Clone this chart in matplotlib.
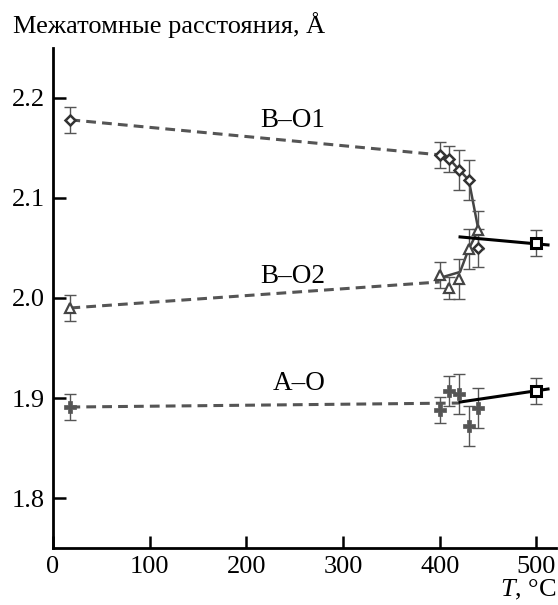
import matplotlib
matplotlib.use("Agg")
import matplotlib.pyplot as plt

plt.rcParams["font.family"] = ["Liberation Serif", "DejaVu Serif"]
plt.rcParams["mathtext.fontset"] = "custom"
plt.rcParams["mathtext.it"] = "Liberation Serif:italic"
plt.rcParams["mathtext.rm"] = "Liberation Serif"

GRAY = "#555555"

# data
t_room = 18
t_high = [400, 410, 420, 430, 440]

bo1_room, bo1_room_err = 2.178, 0.013
bo1 = [2.143, 2.139, 2.128, 2.118, 2.050]
bo1_err = [0.013, 0.013, 0.020, 0.020, 0.019]

bo2_room, bo2_room_err = 1.990, 0.013
bo2 = [2.023, 2.010, 2.019, 2.049, 2.068]
bo2_err = [0.013, 0.011, 0.020, 0.020, 0.019]

ao_room, ao_room_err = 1.891, 0.013
ao = [1.888, 1.907, 1.904, 1.872, 1.890]
ao_err = [0.013, 0.015, 0.020, 0.020, 0.020]

t_cubic = 500
bo_cubic, bo_cubic_err = 2.055, 0.013
ao_cubic, ao_cubic_err = 1.907, 0.013

# straight fits in the high temperature phase
fit_t = [421, 512]
bo_fit = [2.061, 2.053]
ao_fit = [1.896, 1.909]

# guide lines near the transition
bo1_guide_t = [400, 410, 420, 430, 440]
bo1_guide = [2.143, 2.139, 2.128, 2.118, 2.068]
bo2_guide_t = [400, 421, 430, 440]
bo2_guide = [2.020, 2.026, 2.049, 2.068]

fig = plt.figure(figsize=(5.58, 6.05), dpi=100)
ax = fig.add_axes([0.095, 0.094, 0.901, 0.827])

eb = dict(fmt="none", ecolor=GRAY, elinewidth=1.0, capsize=4, capthick=1.0, zorder=2)
dash = (0, (3.2, 2.0))

# dashed lines from room temperature
ax.plot([t_room, 400], [bo1_room, bo1[0]], ls=dash, color=GRAY, lw=2.2, zorder=1)
ax.plot([t_room, 400], [bo2_room, 2.016], ls=dash, color=GRAY, lw=2.2, zorder=1)
ax.plot([t_room, 420], [ao_room, 1.895], ls=dash, color=GRAY, lw=2.2, zorder=1)

ax.plot(bo1_guide_t, bo1_guide, color="#444444", lw=1.8, zorder=1)
ax.plot(bo2_guide_t, bo2_guide, color="#444444", lw=1.8, zorder=1)

ax.plot(fit_t, bo_fit, color="black", lw=2.2, zorder=3)
ax.plot(fit_t, ao_fit, color="black", lw=2.2, zorder=3)

# B-O1
ax.errorbar([t_room] + t_high, [bo1_room] + bo1, yerr=[bo1_room_err] + bo1_err, **eb)
ax.plot([t_room] + t_high, [bo1_room] + bo1, ls="none", marker="D", ms=5.5,
        mfc="white", mec="#333333", mew=1.8, zorder=4)

# B-O2
ax.errorbar([t_room] + t_high, [bo2_room] + bo2, yerr=[bo2_room_err] + bo2_err, **eb)
ax.plot([t_room] + t_high, [bo2_room] + bo2, ls="none", marker="^", ms=7.5,
        mfc="white", mec="#444444", mew=1.6, zorder=4)

# A-O
ax.errorbar([t_room] + t_high, [ao_room] + ao, yerr=[ao_room_err] + ao_err, **eb)
ax.plot([t_room] + t_high, [ao_room] + ao, ls="none", marker="P", ms=9,
        mfc=GRAY, mec=GRAY, mew=0.5, zorder=4)

# cubic phase
ax.errorbar([t_cubic, t_cubic], [bo_cubic, ao_cubic], yerr=[bo_cubic_err, ao_cubic_err], **eb)
ax.plot([t_cubic, t_cubic], [bo_cubic, ao_cubic], ls="none", marker="s", ms=7.5,
        mfc="white", mec="black", mew=2.2, zorder=5)

ax.text(248, 2.177, "B–O1", ha="center", va="center", fontsize=19.5)
ax.text(248, 2.021, "B–O2", ha="center", va="center", fontsize=19.5)
ax.text(255, 1.915, "A–O", ha="center", va="center", fontsize=19.5)

ax.set_xlim(0, 520)
ax.set_ylim(1.75, 2.25)
ax.set_xticks([0, 100, 200, 300, 400, 500])
ax.set_yticks([1.8, 1.9, 2.0, 2.1, 2.2])
ax.set_yticklabels(["1.8", "1.9", "2.0", "2.1", "2.2"])
ax.tick_params(direction="in", length=9, width=1.8, labelsize=19, pad=6)
ax.spines["top"].set_visible(False)
ax.spines["right"].set_visible(False)
ax.spines["left"].set_linewidth(2)
ax.spines["bottom"].set_linewidth(2)

fig.text(0.023, 0.945, "Межатомные расстояния, Å", fontsize=19, ha="left", va="baseline")
fig.text(0.997, 0.014, r"$T$, °C", fontsize=19, ha="right", va="baseline")

fig.savefig("out.png", dpi=100)
